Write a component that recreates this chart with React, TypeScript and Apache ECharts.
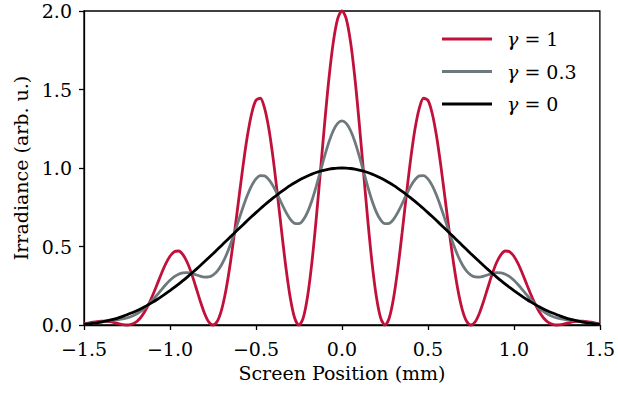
import React, { useEffect, useRef } from "react";
import * as echarts from "echarts";

// Screen position (mm)
const positions = [
  -1.5, -1.475, -1.45, -1.425, -1.4, -1.375, -1.35, -1.325, -1.3, -1.275,
  -1.25, -1.225, -1.2, -1.175, -1.15, -1.125, -1.1, -1.075, -1.05, -1.025,
  -1.0, -0.975, -0.95, -0.925, -0.9, -0.875, -0.85, -0.825, -0.8, -0.775,
  -0.75, -0.725, -0.7, -0.675, -0.65, -0.625, -0.6, -0.575, -0.55, -0.525,
  -0.5, -0.475, -0.45, -0.425, -0.4, -0.375, -0.35, -0.325, -0.3, -0.275,
  -0.25, -0.225, -0.2, -0.175, -0.15, -0.125, -0.1, -0.075, -0.05, -0.025,
  0,
  0.025, 0.05, 0.075, 0.1, 0.125, 0.15, 0.175, 0.2, 0.225, 0.25,
  0.275, 0.3, 0.325, 0.35, 0.375, 0.4, 0.425, 0.45, 0.475, 0.5,
  0.525, 0.55, 0.575, 0.6, 0.625, 0.65, 0.675, 0.7, 0.725, 0.75,
  0.775, 0.8, 0.825, 0.85, 0.875, 0.9, 0.925, 0.95, 0.975, 1.0,
  1.025, 1.05, 1.075, 1.1, 1.125, 1.15, 1.175, 1.2, 1.225, 1.25,
  1.275, 1.3, 1.325, 1.35, 1.375, 1.4, 1.425, 1.45, 1.475, 1.5,
];

// Irradiance, gamma = 1
const gamma1 = [
  0.0078, 0.0127, 0.0175, 0.0218, 0.0241, 0.024, 0.021, 0.0155, 0.0088, 0.0027,
  0, 0.0037, 0.0168, 0.0416, 0.0795, 0.1299, 0.1909, 0.2583, 0.3265, 0.3887,
  0.4376, 0.4667, 0.4712, 0.4486, 0.3996, 0.3287, 0.2438, 0.1556, 0.0769, 0.0209,
  0, 0.0235, 0.0968, 0.2198, 0.3869, 0.5865, 0.8023, 1.0148, 1.2032, 1.3474,
  1.4314, 1.4442, 1.3821, 1.2498, 1.0595, 0.8308, 0.5882, 0.3589, 0.1698, 0.0443,
  0, 0.0458, 0.1813, 0.3961, 0.6711, 0.98, 1.2921, 1.5764, 1.8032, 1.9495,
  2.0,
  1.9495, 1.8032, 1.5764, 1.2921, 0.98, 0.6711, 0.3961, 0.1813, 0.0458, 0,
  0.0443, 0.1698, 0.3589, 0.5882, 0.8308, 1.0595, 1.2498, 1.3821, 1.4442, 1.4314,
  1.3474, 1.2032, 1.0148, 0.8023, 0.5865, 0.3869, 0.2198, 0.0968, 0.0235, 0,
  0.0209, 0.0769, 0.1556, 0.2438, 0.3287, 0.3996, 0.4486, 0.4712, 0.4667, 0.4376,
  0.3887, 0.3265, 0.2583, 0.1909, 0.1299, 0.0795, 0.0416, 0.0168, 0.0037, 0,
  0.0027, 0.0088, 0.0155, 0.021, 0.024, 0.0241, 0.0218, 0.0175, 0.0127, 0.0078,
];

// Irradiance, gamma = 0.3
const gamma03 = [
  0.0051, 0.0084, 0.0121, 0.0161, 0.0201, 0.024, 0.0276, 0.0311, 0.0348, 0.0393,
  0.0456, 0.0544, 0.0667, 0.0832, 0.1043, 0.1299, 0.1593, 0.1914, 0.2243, 0.256,
  0.2844, 0.3075, 0.3237, 0.3323, 0.3336, 0.3287, 0.3201, 0.3109, 0.3049, 0.306,
  0.3179, 0.3433, 0.3838, 0.4393, 0.508, 0.5865, 0.6697, 0.7518, 0.8265, 0.8876,
  0.9304, 0.9514, 0.9494, 0.9259, 0.8844, 0.8308, 0.7723, 0.7171, 0.6732, 0.6474,
  0.6452, 0.6691, 0.7189, 0.7915, 0.8812, 0.98, 1.0786, 1.1679, 1.2387, 1.2843,
  1.3,
  1.2843, 1.2387, 1.1679, 1.0786, 0.98, 0.8812, 0.7915, 0.7189, 0.6691, 0.6452,
  0.6474, 0.6732, 0.7171, 0.7723, 0.8308, 0.8844, 0.9259, 0.9494, 0.9514, 0.9304,
  0.8876, 0.8265, 0.7518, 0.6697, 0.5865, 0.508, 0.4393, 0.3838, 0.3433, 0.3179,
  0.306, 0.3049, 0.3109, 0.3201, 0.3287, 0.3336, 0.3323, 0.3237, 0.3075, 0.2844,
  0.256, 0.2243, 0.1914, 0.1593, 0.1299, 0.1043, 0.0832, 0.0667, 0.0544, 0.0456,
  0.0393, 0.0348, 0.0311, 0.0276, 0.024, 0.0201, 0.0161, 0.0121, 0.0084, 0.0051,
];

// Irradiance, gamma = 0
const gamma0 = [
  0.0039, 0.0065, 0.0097, 0.0137, 0.0184, 0.024, 0.0304, 0.0377, 0.0459, 0.055,
  0.0651, 0.0761, 0.0881, 0.101, 0.115, 0.1299, 0.1458, 0.1627, 0.1805, 0.1992,
  0.2188, 0.2392, 0.2605, 0.2825, 0.3053, 0.3287, 0.3528, 0.3775, 0.4026, 0.4282,
  0.4541, 0.4803, 0.5068, 0.5333, 0.5599, 0.5865, 0.6129, 0.6391, 0.6651, 0.6906,
  0.7157, 0.7402, 0.764, 0.7871, 0.8094, 0.8308, 0.8512, 0.8706, 0.8889, 0.9059,
  0.9217, 0.9362, 0.9493, 0.961, 0.9712, 0.98, 0.9871, 0.9928, 0.9968, 0.9992,
  1.0,
  0.9992, 0.9968, 0.9928, 0.9871, 0.98, 0.9712, 0.961, 0.9493, 0.9362, 0.9217,
  0.9059, 0.8889, 0.8706, 0.8512, 0.8308, 0.8094, 0.7871, 0.764, 0.7402, 0.7157,
  0.6906, 0.6651, 0.6391, 0.6129, 0.5865, 0.5599, 0.5333, 0.5068, 0.4803, 0.4541,
  0.4282, 0.4026, 0.3775, 0.3528, 0.3287, 0.3053, 0.2825, 0.2605, 0.2392, 0.2188,
  0.1992, 0.1805, 0.1627, 0.1458, 0.1299, 0.115, 0.101, 0.0881, 0.0761, 0.0651,
  0.055, 0.0459, 0.0377, 0.0304, 0.024, 0.0184, 0.0137, 0.0097, 0.0065, 0.0039,
];

const seriesNames = ["γ = 1", "γ = 0.3", "γ = 0"];
const seriesColors = ["#C1113A", "#6E797E", "#000000"];

export default function App() {
  const ref = useRef<HTMLDivElement>(null);

  useEffect(() => {
    document.body.style.margin = "0";
    const chart = echarts.init(ref.current as HTMLDivElement, null, { renderer: "svg" });
    const font = "'DejaVu Serif', serif";
    const fmt = (v: number) => v.toFixed(1).replace("-", "\u2212");
    const toPairs = (ys: number[]) => positions.map((x, i) => [x, ys[i]]);
    const allData = [gamma1, gamma03, gamma0];

    chart.setOption({
      animation: false,
      backgroundColor: "#ffffff",
      grid: {
        left: 84,
        right: 15,
        top: 11,
        bottom: 71,
        show: true,
        borderColor: "#000",
        borderWidth: 1.3,
        backgroundColor: "transparent",
      },
      legend: {
        orient: "vertical",
        left: 442,
        top: 28,
        padding: 0,
        itemWidth: 50,
        itemHeight: 3,
        itemGap: 10.5,
        icon: "rect",
        data: seriesNames,
        formatter: (name: string) => "{g|γ}" + name.slice(1),
        textStyle: {
          fontFamily: font,
          fontSize: 19,
          color: "#000",
          lineHeight: 22,
          padding: [0, 0, 0, 10],
          rich: {
            g: { fontFamily: font, fontSize: 19, fontStyle: "italic", color: "#000" },
          },
        },
      },
      xAxis: {
        type: "value",
        min: -1.5,
        max: 1.5,
        interval: 0.5,
        name: "Screen Position (mm)",
        nameLocation: "middle",
        nameGap: 38,
        nameTextStyle: { fontFamily: font, fontSize: 19, color: "#000" },
        axisLine: { show: true, onZero: false, lineStyle: { color: "#000", width: 1.3 } },
        axisTick: { show: true, inside: false, length: 5, lineStyle: { color: "#000", width: 1.3 } },
        axisLabel: {
          formatter: fmt,
          fontFamily: font,
          fontSize: 19,
          color: "#000",
          margin: 14,
        },
        splitLine: { show: false },
      },
      yAxis: {
        type: "value",
        min: 0,
        max: 2,
        interval: 0.5,
        name: "Irradiance (arb. u.)",
        nameLocation: "middle",
        nameGap: 52,
        nameTextStyle: { fontFamily: font, fontSize: 19, color: "#000" },
        axisLine: { show: true, onZero: false, lineStyle: { color: "#000", width: 1.3 } },
        axisTick: { show: true, inside: false, length: 5, lineStyle: { color: "#000", width: 1.3 } },
        axisLabel: {
          formatter: fmt,
          fontFamily: font,
          fontSize: 19,
          color: "#000",
          margin: 12,
        },
        splitLine: { show: false },
      },
      series: seriesNames.map((name, k) => ({
        name,
        type: "line",
        data: toPairs(allData[k]),
        symbol: "none",
        smooth: 0.3,
        clip: false,
        lineStyle: { color: seriesColors[k], width: 2.8 },
        itemStyle: { color: seriesColors[k] },
      })),
    });

    return () => chart.dispose();
  }, []);

  return (
    <div
      ref={ref}
      style={{ position: "absolute", left: 0, top: 0, width: 618, height: 396 }}
    />
  );
}
